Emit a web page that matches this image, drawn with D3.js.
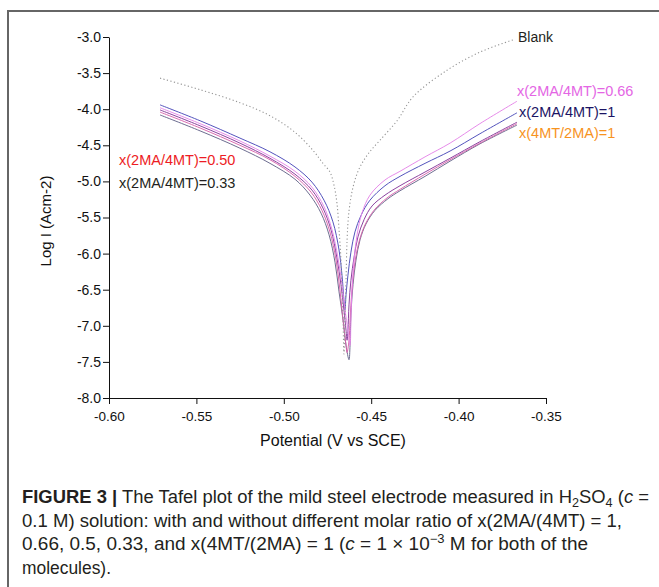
<!DOCTYPE html>
<html><head><meta charset="utf-8">
<script src="https://cdn.jsdelivr.net/npm/d3@7"></script>
<style>
body{margin:0;background:#fff}
text{font-family:"Liberation Sans",Arial,Helvetica,sans-serif}
</style>
</head><body>
<svg id="chart" width="659" height="587"></svg>
<script>
// ---------- data ----------
const xTicks = [-0.60, -0.55, -0.50, -0.45, -0.40, -0.35];
const yTicks = [-3.0, -3.5, -4.0, -4.5, -5.0, -5.5, -6.0, -6.5, -7.0, -7.5, -8.0];

const blankE = [-0.5708,-0.5479,-0.5251,-0.5079,-0.4936,-0.4833,-0.4776,-0.4736,-0.4713,-0.4696,-0.4684,-0.4673,-0.4667,-0.4661,-0.4656,
                -0.4650,-0.4644,-0.4638,-0.4627,-0.4604,-0.4570,-0.4518,-0.4450,-0.4352,-0.4261,-0.4066,-0.3878,-0.3689];
const blankLogI = [-3.57,-3.73,-3.91,-4.09,-4.32,-4.57,-4.75,-4.87,-5.05,-5.30,-5.67,-6.09,-6.50,-6.92,-7.39,
                   -6.92,-6.37,-5.81,-5.41,-5.08,-4.83,-4.62,-4.43,-4.16,-3.83,-3.46,-3.21,-3.04];

const r066E = [-0.5708,-0.5479,-0.5251,-0.5079,-0.4936,-0.4839,-0.4770,-0.4724,-0.4690,-0.4667,-0.4650,-0.4633,-0.4621,
               -0.4616,-0.4610,-0.4598,-0.4581,-0.4553,-0.4507,-0.4421,-0.4335,-0.4192,-0.4049,-0.3878,-0.3666];
const r066LogI = [-3.98,-4.20,-4.44,-4.65,-4.86,-5.08,-5.35,-5.67,-6.06,-6.43,-6.78,-7.06,-7.27,
                  -6.92,-6.50,-6.09,-5.74,-5.44,-5.19,-4.98,-4.86,-4.66,-4.47,-4.20,-3.89];

const r1E = [-0.5708,-0.5479,-0.5251,-0.5079,-0.4936,-0.4839,-0.4770,-0.4719,-0.4684,-0.4667,-0.4656,-0.4650,
             -0.4644,-0.4633,-0.4616,-0.4593,-0.4558,-0.4507,-0.4421,-0.4335,-0.4192,-0.4049,-0.3878,-0.3666];
const r1LogI = [-3.94,-4.16,-4.40,-4.59,-4.80,-5.01,-5.26,-5.56,-5.95,-6.30,-6.64,-6.78,
                -6.57,-6.30,-5.98,-5.70,-5.47,-5.26,-5.06,-4.93,-4.75,-4.58,-4.34,-4.05];

const inv1E = [-0.5708,-0.5479,-0.5251,-0.5079,-0.4936,-0.4839,-0.4776,-0.4730,-0.4696,-0.4673,-0.4656,-0.4644,-0.4638,
               -0.4633,-0.4627,-0.4616,-0.4598,-0.4576,-0.4541,-0.4495,-0.4421,-0.4335,-0.4192,-0.4049,-0.3878,-0.3666];
const inv1LogI = [-4.01,-4.23,-4.47,-4.68,-4.90,-5.12,-5.37,-5.67,-6.06,-6.43,-6.78,-7.06,-7.20,
                  -7.06,-6.71,-6.37,-6.05,-5.77,-5.53,-5.34,-5.19,-5.06,-4.87,-4.68,-4.45,-4.18];

const r050E = [-0.5708,-0.5479,-0.5251,-0.5079,-0.4936,-0.4844,-0.4782,-0.4736,-0.4701,-0.4679,-0.4661,-0.4644,-0.4638,
               -0.4627,-0.4621,-0.4610,-0.4593,-0.4570,-0.4535,-0.4484,-0.4410,-0.4335,-0.4192,-0.4049,-0.3878,-0.3666];
const r050LogI = [-4.04,-4.26,-4.50,-4.70,-4.93,-5.15,-5.40,-5.70,-6.09,-6.50,-6.92,-7.27,-7.37,
                  -7.20,-6.92,-6.50,-6.12,-5.84,-5.60,-5.40,-5.23,-5.11,-4.90,-4.70,-4.47,-4.20];

const r033E = [-0.5708,-0.5479,-0.5251,-0.5079,-0.4936,-0.4850,-0.4787,-0.4741,-0.4707,-0.4684,-0.4661,-0.4644,-0.4627,
               -0.4621,-0.4616,-0.4604,-0.4587,-0.4564,-0.4530,-0.4478,-0.4404,-0.4335,-0.4192,-0.4049,-0.3878,-0.3666];
const r033LogI = [-4.08,-4.30,-4.54,-4.75,-4.97,-5.19,-5.44,-5.74,-6.12,-6.53,-6.92,-7.27,-7.47,
                  -7.27,-6.85,-6.43,-6.09,-5.81,-5.59,-5.40,-5.24,-5.13,-4.93,-4.72,-4.48,-4.22];

const seriesNames = ["Blank", "x(2MA/4MT)=0.66", "x(2MA/4MT)=1", "x(4MT/2MA)=1", "x(2MA/4MT)=0.50", "x(2MA/4MT)=0.33"];
const lineColors = ["#959595", "#e585e8", "#4a4ab8", "#86389a", "#d862ac", "#65658a"];
const labelColors = ["#231f20", "#e466e4", "#1b1464", "#f7931e", "#ed1c24", "#231f20"];

// ---------- layout ----------
const svg = d3.select("#chart");
svg.append("rect").attr("width", 659).attr("height", 587).attr("fill", "#fff");
svg.append("path").attr("d", "M8,587V11H659").attr("fill", "none").attr("stroke", "#666").attr("stroke-width", 2);

const x = d3.scaleLinear().domain([-0.60, -0.35]).range([109, 546]);
const y = d3.scaleLinear().domain([-3.0, -8.0]).range([37, 398]);

const fmt = d3.formatLocale({decimal: ".", thousands: ",", grouping: [3], currency: ["", ""], minus: "-"});
const fx = fmt.format(".2f"), fy = fmt.format(".1f");

// minor ticks
const xMinor = d3.range(0, 26).map(i => -0.60 + i * 0.01).filter(v => Math.abs(Math.round(v * 100) % 5) !== 0);
const yMinor = d3.range(0, 10).map(i => -3.25 - i * 0.5);

const gx = svg.append("g").attr("transform", `translate(0,${y(-8.0)})`);
gx.call(d3.axisBottom(x).tickValues(xMinor).tickSize(3).tickSizeOuter(0).tickFormat(""));
gx.call(d3.axisBottom(x).tickValues(xTicks).tickSize(6).tickSizeOuter(0).tickFormat(fx));
gx.selectAll("text").attr("y", 13).attr("dy", "0.71em").attr("font-size", 13.5).attr("font-family", '"Liberation Sans",Arial,sans-serif').attr("fill", "#111");

const gy = svg.append("g").attr("transform", `translate(${x(-0.60)},0)`);
gy.call(d3.axisLeft(y).tickValues(yMinor).tickSize(3).tickSizeOuter(0).tickFormat(""));
gy.call(d3.axisLeft(y).tickValues(yTicks).tickSize(6).tickSizeOuter(0).tickFormat(fy));
gy.selectAll("text").attr("x", -8).attr("font-size", 14).attr("font-family", '"Liberation Sans",Arial,sans-serif').attr("fill", "#111");
svg.selectAll(".domain, .tick line").attr("stroke", "#111");

// axis titles
svg.append("text").attr("x", 333).attr("y", 446).attr("text-anchor", "middle")
  .attr("font-size", 16).attr("fill", "#111").text("Potential (V vs SCE)");
svg.append("text").attr("transform", "translate(51,221) rotate(-90)").attr("text-anchor", "middle")
  .attr("font-size", 15).attr("fill", "#111").text("Log I (Acm-2)");

// curves
const seriesData = [
  [blankE, blankLogI], [r066E, r066LogI], [r1E, r1LogI], [inv1E, inv1LogI], [r050E, r050LogI], [r033E, r033LogI]
].map(([E, L], i) => ({name: seriesNames[i], color: lineColors[i], pts: E.map((e, j) => [e, L[j]])}));

const line = d3.line().x(d => x(d[0])).y(d => y(d[1])).curve(d3.curveCatmullRom.alpha(0.5));
const drawOrder = [5, 4, 3, 2, 1, 0];
drawOrder.forEach(i => {
  const s = seriesData[i];
  svg.append("path").attr("d", line(s.pts)).attr("fill", "none").attr("stroke", s.color)
    .attr("stroke-width", i === 0 ? 1.1 : 0.95)
    .attr("stroke-dasharray", i === 0 ? "1.2,2.4" : null);
});

// series labels
const labelPos = [[518, 42], [517, 96], [519, 117], [519, 138], [119, 165], [119, 188]];
seriesNames.forEach((n, i) => {
  svg.append("text").attr("x", labelPos[i][0]).attr("y", labelPos[i][1])
    .attr("font-size", i === 0 ? 14 : 14.5).attr("fill", labelColors[i]).text(n);
});

// caption
const cap = svg.append("g").attr("fill", "#231f20").attr("font-size", 17.5);
const capLines = [
  {y: 503, w: 627, parts: [["FIGURE 3 |", "b"], [" The Tafel plot of the mild steel electrode measured in H"], ["2", "sub"], ["SO"], ["4", "sub"], [" ("], ["c", "i"], [" ="]]},
  {y: 527, w: 600, parts: [["0.1 M) solution: with and without different molar ratio of x(2MA/(4MT) = 1,"]]},
  {y: 550, w: 566, parts: [["0.66, 0.5, 0.33, and x(4MT/(2MA) = 1 ("], ["c", "i"], [" = 1 × 10"], ["−3", "sup"], [" M for both of the"]]},
  {y: 574, w: 89, parts: [["molecules)."]]}
];
capLines.forEach(l => {
  const t = cap.append("text").attr("x", 22).attr("y", l.y)
    .attr("textLength", l.w).attr("lengthAdjust", "spacingAndGlyphs");
  l.parts.forEach(([s, k]) => {
    const ts = t.append("tspan").text(s);
    if (k === "b") ts.attr("font-weight", "bold");
    if (k === "i") ts.attr("font-style", "italic");
    if (k === "sub") ts.attr("font-size", 12).attr("baseline-shift", -4);
    if (k === "sup") ts.attr("font-size", 12).attr("baseline-shift", 7);
  });
});
</script>
</body></html>
